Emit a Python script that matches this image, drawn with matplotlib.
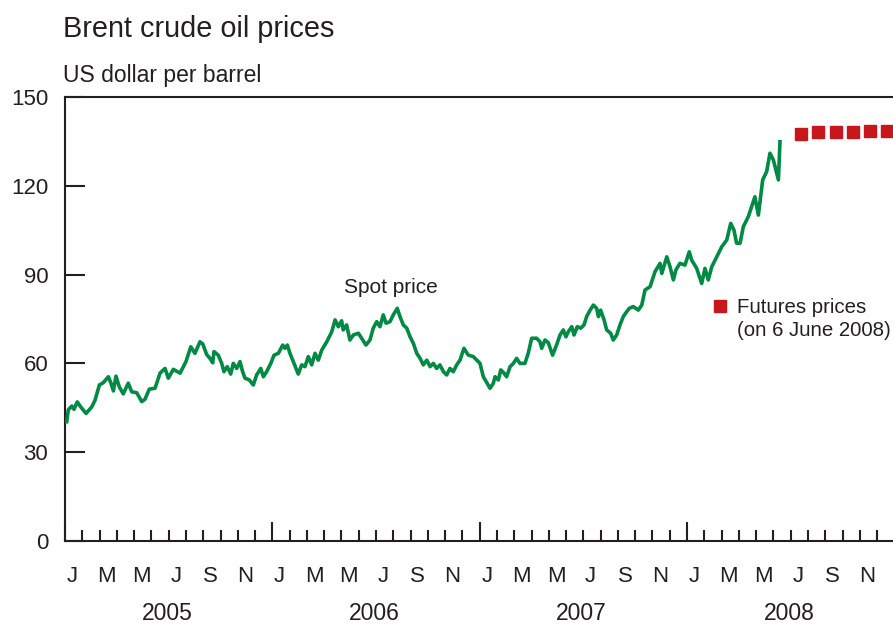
import matplotlib
matplotlib.use("Agg")
import matplotlib.pyplot as plt
import numpy as np

plt.rcParams['font.family'] = ['Liberation Sans', 'DejaVu Sans']

# ---- data (x in months since 1 Jan 2005) ----
spot_month = [0.10, 0.19, 0.39, 0.52, 0.71, 0.91, 1.22, 1.55, 1.74, 1.99, 2.22, 2.51, 2.65, 2.80, 2.95,
              3.14, 3.37, 3.66, 3.86, 4.15, 4.44, 4.63, 4.88, 5.21, 5.50, 5.79, 5.98, 6.27, 6.66, 7.00,
              7.28, 7.52, 7.81, 7.97, 8.20, 8.39, 8.55, 8.62, 8.87, 9.07, 9.20, 9.39, 9.59, 9.74, 9.94,
              10.13, 10.28, 10.42, 10.67, 10.90, 11.09, 11.33, 11.48, 11.67, 11.91, 12.10, 12.35, 12.60,
              12.73, 12.87, 13.02, 13.21, 13.50, 13.70, 13.89, 14.08, 14.28, 14.47, 14.66, 14.86, 15.15,
              15.44, 15.63, 15.82, 16.01, 16.10, 16.30, 16.49, 16.69, 16.98, 17.17, 17.42, 17.65, 17.84,
              18.04, 18.23, 18.42, 18.58, 18.81, 19.00, 19.23, 19.39, 19.58, 19.78, 19.97, 20.16, 20.36,
              20.55, 20.74, 20.94, 21.13, 21.32, 21.51, 21.70, 21.90, 22.09, 22.28, 22.47, 22.67, 22.86,
              23.09, 23.34, 23.63, 23.83, 24.02, 24.21, 24.41, 24.60, 24.79, 24.89, 25.08, 25.22, 25.41,
              25.56, 25.76, 25.95, 26.14, 26.33, 26.62, 26.81, 27.01, 27.30, 27.49, 27.59, 27.78, 27.97,
              28.22, 28.45, 28.65, 28.84, 28.99, 29.13, 29.33, 29.46, 29.65, 29.85, 30.04, 30.19, 30.39,
              30.58, 30.77, 30.87, 31.00, 31.20, 31.35, 31.58, 31.73, 31.93, 32.12, 32.31, 32.51, 32.66,
              32.89, 33.18, 33.38, 33.57, 33.86, 34.15, 34.44, 34.54, 34.83, 35.02, 35.21, 35.36, 35.59,
              35.88, 36.13, 36.27, 36.56, 36.85, 37.04, 37.23, 37.43, 37.72, 38.01, 38.30, 38.53, 38.72,
              38.87, 39.07, 39.26, 39.55, 39.93, 40.13, 40.38, 40.61, 40.80, 41.00, 41.29, 41.38]
spot_price = [40.3, 44.3, 45.6, 44.5, 47.0, 45.3, 43.1, 45.3, 47.6, 52.7, 53.5, 55.5, 53.5, 50.7, 55.7,
              52.1, 49.7, 53.3, 50.4, 50.1, 47.1, 47.9, 51.3, 51.6, 56.7, 58.3, 55.0, 58.0, 56.7, 60.6,
              65.6, 63.4, 67.3, 66.6, 63.0, 61.7, 60.2, 64.0, 62.8, 60.0, 57.2, 58.9, 56.4, 60.0, 58.3,
              60.6, 57.2, 55.0, 54.4, 52.7, 56.1, 58.3, 55.5, 57.2, 60.0, 62.8, 63.4, 66.2,
              65.1, 66.2, 63.4, 60.6, 56.4, 59.5, 58.9, 62.3, 59.5, 63.4, 61.1, 64.5, 67.3,
              70.7, 74.7, 72.4, 74.4, 71.3, 73.0, 67.9, 69.6, 70.2, 68.5, 66.2, 67.9, 71.9,
              74.1, 72.4, 76.4, 73.6, 74.1, 76.4, 78.6, 75.8, 73.0, 71.9, 69.0, 66.8, 63.4,
              61.7, 59.5, 61.1, 58.9, 60.0, 58.3, 59.5, 57.2, 56.1, 58.3, 57.2, 59.5, 61.1,
              65.1, 62.8, 62.3, 61.1, 60.0, 55.5, 53.5, 51.6, 53.3, 55.5, 54.4, 57.8, 56.7,
              55.5, 58.9, 60.0, 61.7, 60.0, 60.0, 63.4, 68.5, 68.5, 67.3, 65.1, 67.9, 67.0,
              62.8, 66.2, 69.6, 71.3, 69.0, 70.7, 72.4, 69.6, 72.4, 71.9, 73.0, 75.8, 78.0,
              79.7, 78.6, 75.8, 78.0, 74.7, 71.3, 70.2, 67.9, 69.6, 73.0, 75.8, 77.5, 78.6,
              79.2, 78.0, 79.7, 84.8, 85.9, 91.0, 93.8, 90.4, 96.0, 92.6, 88.2, 91.6, 93.8,
              93.2, 97.7, 94.9, 92.1, 87.0, 92.1, 88.2, 92.6, 96.0, 99.4, 101.7, 107.3, 105.0,
              100.6, 100.6, 106.2, 109.6, 116.3, 110.1, 122.0, 124.8, 131.0, 128.7, 122.0, 134.9]

futures_month = [42.6, 43.6, 44.6, 45.6, 46.6, 47.6]
futures_price = [137.4, 138.1, 138.3, 138.3, 138.4, 138.4]

month_letters = ['J', 'M', 'M', 'J', 'S', 'N']
years = ['2005', '2006', '2007', '2008']
y_ticks = [0, 30, 60, 90, 120, 150]

TXT = '#231f20'
GREEN = '#008a43'
RED = '#c8161d'

W, H = 893, 626
fig = plt.figure(figsize=(W / 100, H / 100), dpi=100)
ax = fig.add_axes([65 / W, (H - 541) / H, (W - 65) / W, 444 / H])

ax.plot(spot_month, spot_price, color=GREEN, lw=2.6, solid_joinstyle='round', zorder=3)
ax.plot(futures_month, futures_price, ls='none', marker='s', ms=8.6, color=RED,
        mec=RED, clip_on=False, zorder=3)

ax.set_xlim(0, (W - 65) / 17.278)
ax.set_ylim(0, 150)

for s in ['left', 'bottom', 'top']:
    ax.spines[s].set_color(TXT)
    ax.spines[s].set_linewidth(1.5)
ax.spines['right'].set_visible(False)

ax.set_yticks(y_ticks)
ax.set_yticklabels([str(v) for v in y_ticks])
ax.tick_params(axis='y', direction='in', length=14.4, width=1.5, color=TXT,
               labelsize=16, labelcolor=TXT, pad=12)

ax.set_xticks([0, 12, 24, 36])
ax.set_xticks(np.arange(0, 48), minor=True)
ax.tick_params(axis='x', which='major', direction='in', length=13.5, width=1.5, color=TXT,
               labelbottom=False)
ax.tick_params(axis='x', which='minor', direction='in', length=8, width=1.5, color=TXT,
               labelbottom=False)

trans = ax.get_xaxis_transform()
for yi, yr in enumerate(years):
    for k, lab in enumerate(month_letters):
        ax.text(yi * 12 + 2 * k + 0.42, (541 - 582) / 444, lab, transform=trans,
                ha='center', va='baseline', fontsize=16, color=TXT, clip_on=False)
    ax.text(yi * 12 + 5.9, (541 - 620) / 444, yr, transform=trans,
            ha='center', va='baseline', fontsize=16.5, color=TXT, clip_on=False)

fig.text(63 / W, 1 - 37 / H, 'Brent crude oil prices', fontsize=20.8, color=TXT,
         ha='left', va='baseline')
fig.text(63 / W, 1 - 82 / H, 'US dollar per barrel', fontsize=16.5, color=TXT,
         ha='left', va='baseline')

fig.text(344 / W, 1 - 293 / H, 'Spot price', fontsize=15, color=TXT, ha='left', va='baseline')

fig.add_artist(plt.Rectangle((714 / W, 1 - 312 / H), 12 / W, 12 / H, color=RED,
                             transform=fig.transFigure))
fig.text(737 / W, 1 - 313 / H, 'Futures prices', fontsize=14.7, color=TXT, ha='left', va='baseline')
fig.text(737 / W, 1 - 336 / H, '(on 6 June 2008)', fontsize=14.7, color=TXT, ha='left', va='baseline')

fig.savefig('out.png', dpi=100)
